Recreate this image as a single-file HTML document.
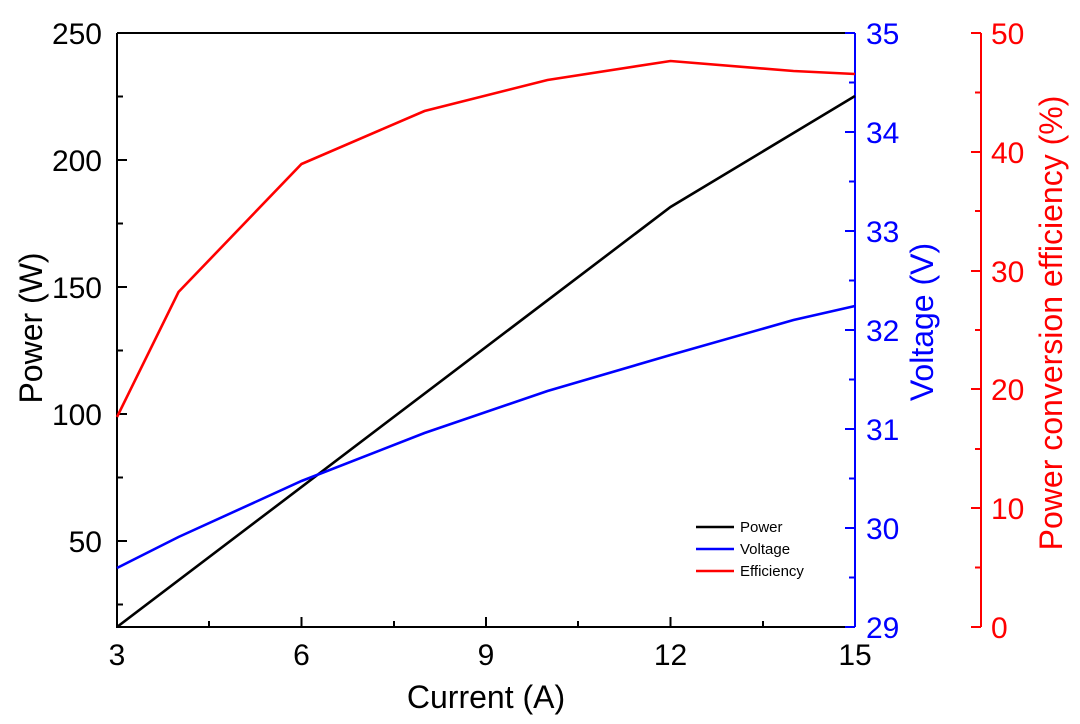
<!DOCTYPE html>
<html><head><meta charset="utf-8"><style>
html,body{margin:0;padding:0;background:#fff}
svg text{font-family:"Liberation Sans",Arial,sans-serif}
</style></head><body>
<svg width="1080" height="719" viewBox="0 0 1080 719" xmlns="http://www.w3.org/2000/svg">
<g fill="none" stroke-width="2">
<path d="M117,33 H855 M117,33 V627 H855" stroke="#000"/>
<path d="M855,33 V627" stroke="#00f"/>
<path d="M981,33 V627" stroke="#f00"/>
<path stroke="#000" d="M117,160h10M117,287h10M117,414h10M117,541h10M117,96.5h6M117,223.5h6M117,350.5h6M117,477.5h6M117,604.5h6"/>
<path stroke="#000" d="M301.5,627v-10M486,627v-10M670.5,627v-10M209,627v-6M394,627v-6M578,627v-6M763,627v-6"/>
<path stroke="#00f" d="M855,33h-10M855,132h-10M855,231h-10M855,330h-10M855,429h-10M855,528h-10M855,627h-10M855,82.5h-6M855,181.5h-6M855,280.5h-6M855,379.5h-6M855,478.5h-6M855,577.5h-6"/>
<path stroke="#f00" d="M981,33h-10M981,152h-10M981,271h-10M981,389h-10M981,508h-10M981,627h-10M981,92.5h-6M981,211h-6M981,330h-6M981,449h-6M981,567.5h-6"/>
</g>
<g fill="none" stroke-width="2.6">
<polyline stroke="#000" points="117,627 670.5,207 855,96"/>
<polyline stroke="#00f" points="117,568 178.5,537 301.5,481 424.5,433 547.5,391 670.5,355 793.5,320 855,306"/>
<polyline stroke="#f00" points="117,417 178.5,292 301.5,164 424.5,111 547.5,80 670.5,61 793.5,71 855,74"/>
<path stroke="#000" d="M696,527h38"/>
<path stroke="#00f" d="M696,549h38"/>
<path stroke="#f00" d="M696,571h38"/>
</g>
<g font-size="15" fill="#000">
<text x="740" y="532">Power</text>
<text x="740" y="554">Voltage</text>
<text x="740" y="576">Efficiency</text>
</g>
<g font-size="30" fill="#000" text-anchor="end">
<text x="102" y="44">250</text>
<text x="102" y="171">200</text>
<text x="102" y="298">150</text>
<text x="102" y="425">100</text>
<text x="102" y="552">50</text>
</g>
<g font-size="30" fill="#000" text-anchor="middle">
<text x="117" y="665">3</text>
<text x="301.5" y="665">6</text>
<text x="486" y="665">9</text>
<text x="670.5" y="665">12</text>
<text x="855" y="665">15</text>
<text x="486" y="708" font-size="32">Current (A)</text>
</g>
<g font-size="30" fill="#00f">
<text x="866" y="44">35</text>
<text x="866" y="143">34</text>
<text x="866" y="242">33</text>
<text x="866" y="341">32</text>
<text x="866" y="440">31</text>
<text x="866" y="539">30</text>
<text x="866" y="638">29</text>
</g>
<g font-size="30" fill="#f00">
<text x="991" y="44">50</text>
<text x="991" y="163">40</text>
<text x="991" y="282">30</text>
<text x="991" y="400">20</text>
<text x="991" y="519">10</text>
<text x="991" y="638">0</text>
</g>
<text transform="translate(42,328) rotate(-90)" font-size="32" text-anchor="middle" fill="#000">Power (W)</text>
<text transform="translate(933,322) rotate(-90)" font-size="32" text-anchor="middle" fill="#00f">Voltage (V)</text>
<text transform="translate(1062,323) rotate(-90)" font-size="32" text-anchor="middle" fill="#f00">Power conversion efficiency (%)</text>
</svg>
</body></html>
